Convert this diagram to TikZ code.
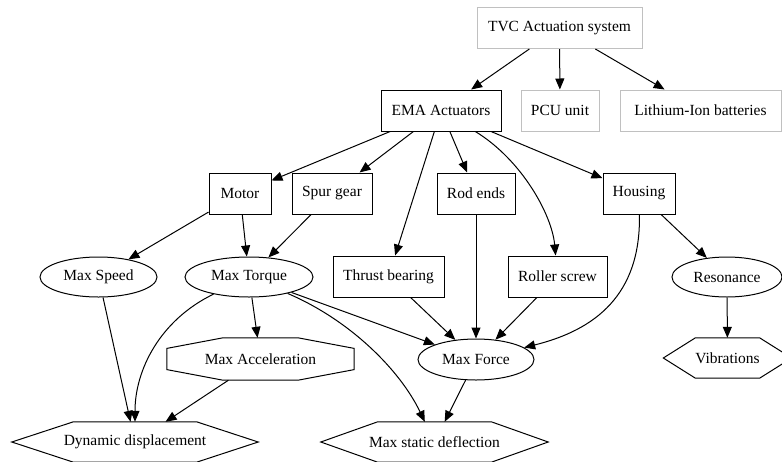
\documentclass[tikz,border=0pt]{standalone}
\usepackage{fontspec}
\setmainfont{Liberation Serif}
\usepackage{tikz}
\usetikzlibrary{shapes.geometric,arrows.meta,calc}
\usepackage{xcolor}
\definecolor{boxgray}{RGB}{192,192,192}
\tikzset{
    sysbox/.style={rectangle, draw=boxgray, line width=1pt, inner sep=0pt, minimum height=41pt},
    partbox/.style={rectangle, draw=black, line width=1pt, inner sep=0pt, minimum height=41pt},
    metric/.style={ellipse, draw=black, line width=1pt, inner sep=0pt, minimum height=40pt},
    effect/.style={rectangle, inner sep=0pt, minimum height=40pt},
    dep/.style={line width=1pt, -{Triangle[length=11pt,width=9pt]}},
    every node/.style={font=\fontsize{15.5pt}{18pt}\selectfont},
}
\begin{document}
\begin{tikzpicture}[x=1pt,y=-1pt]
    \useasboundingbox (0,0) rectangle (782,461);
    % system level
    \node[sysbox, minimum width=165pt] (tvc) at (559.5,28) {TVC Actuation system};
    \node[partbox, minimum width=120pt] (ema) at (441,110.5) {EMA Actuators};
    \node[sysbox, minimum width=78pt] (pcu) at (560,110.5) {PCU unit};
    \node[sysbox, minimum width=161pt] (bat) at (700.5,110.5) {Lithium-Ion batteries};
    % actuator parts
    \node[partbox, minimum width=62pt] (motor) at (240,193.5) {Motor};
    \node[partbox, minimum width=80pt] (spur) at (332,193.5) {Spur gear};
    \node[partbox, minimum width=78pt] (rod) at (476,193.5) {Rod ends};
    \node[partbox, minimum width=72pt] (housing) at (639,193.5) {Housing};
    \node[partbox, minimum width=111pt] (thrust) at (388.5,276.5) {Thrust bearing};
    \node[partbox, minimum width=99pt] (roller) at (557.5,276.5) {Roller screw};
    % requirements
    \node[metric, minimum width=117pt] (speed) at (98.5,277) {Max Speed};
    \node[metric, minimum width=128pt] (torque) at (249,277) {Max Torque};
    \node[metric, minimum width=110pt] (reson) at (727,277) {Resonance};
    \node[metric, minimum width=116pt, minimum height=41pt] (force) at (476,359.5) {Max Force};
    \node[effect, minimum width=187pt, minimum height=42pt] (accel) at (260.5,359) {Max Acceleration};
    \node[effect, minimum width=128pt] (vib) at (727.5,358) {Vibrations};
    \node[effect, minimum width=246pt] (dyn) at (135,442) {Dynamic displacement};
    \node[effect, minimum width=227pt] (stat) at (434.5,442) {Max static deflection};

    % hexagons
    \foreach \n in {vib,dyn,stat} {
        \draw[line width=1pt] (\n.west) -- ($(\n.north west)!.25!(\n.north east)$)
            -- ($(\n.north west)!.75!(\n.north east)$) -- (\n.east)
            -- ($(\n.south west)!.75!(\n.south east)$)
            -- ($(\n.south west)!.25!(\n.south east)$) -- cycle;
    }
    % octagon
    \draw[line width=1pt] ($(accel.north west)!.3!(accel.north east)$)
        -- ($(accel.north west)!.7!(accel.north east)$)
        -- ($(accel.north east)!.25!(accel.south east)$)
        -- ($(accel.north east)!.75!(accel.south east)$)
        -- ($(accel.south west)!.7!(accel.south east)$)
        -- ($(accel.south west)!.3!(accel.south east)$)
        -- ($(accel.north west)!.75!(accel.south west)$)
        -- ($(accel.north west)!.25!(accel.south west)$) -- cycle;

    \draw[dep] (tvc) -- (ema);
    \draw[dep] (tvc) -- (pcu);
    \draw[dep] (tvc) -- (bat);
    \draw[dep] (ema) -- (motor);
    \draw[dep] (ema) -- (spur);
    \draw[dep] (ema) -- (thrust);
    \draw[dep] (ema) -- (rod);
    \draw[dep] (ema) .. controls (522,160) and (552,215) .. (roller);
    \draw[dep] (ema) -- (housing);
    \draw[dep] (motor) -- (speed);
    \draw[dep] (motor) -- (torque);
    \draw[dep] (spur) -- (torque);
    \draw[dep] (rod) -- (force);
    \draw[dep] (thrust) -- (force);
    \draw[dep] (roller) -- (force);
    \draw[dep] (housing) .. controls (641,295) and (595,330) .. (force);
    \draw[dep] (housing) -- (reson);
    \draw[dep] (reson) -- (vib);
    \draw[dep] (speed) -- (dyn);
    \draw[dep] (torque) .. controls (160,320) and (135,370) .. (dyn);
    \draw[dep] (torque) -- (accel);
    \draw[dep] (torque) -- (force);
    \draw[dep] (torque) .. controls (350,320) and (400,370) .. (stat);
    \draw[dep] (accel) -- (dyn);
    \draw[dep] (force) -- (stat);
\end{tikzpicture}
\end{document}
